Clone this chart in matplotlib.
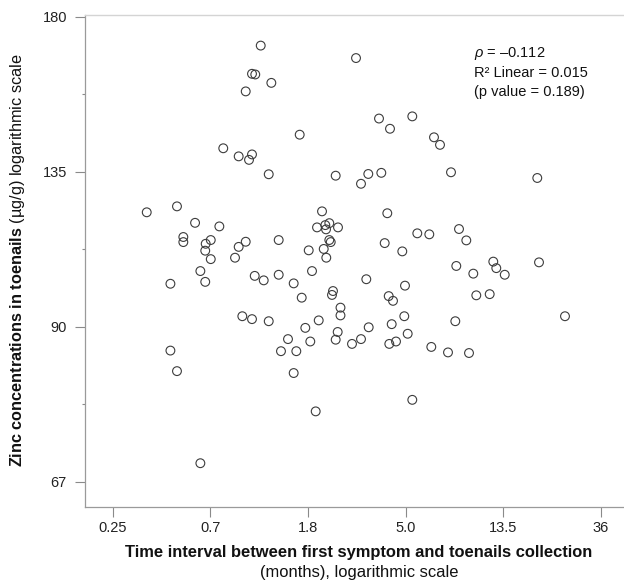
import numpy as np
import matplotlib
matplotlib.use('Agg')
import matplotlib.pyplot as plt
from matplotlib.ticker import FixedLocator, NullLocator, FixedFormatter, NullFormatter

plt.rcParams['font.family'] = ['Liberation Sans', 'DejaVu Sans']
plt.rcParams['mathtext.fontset'] = 'custom'
plt.rcParams['mathtext.rm'] = 'Liberation Sans'
plt.rcParams['mathtext.it'] = 'Liberation Sans:italic'
plt.rcParams['mathtext.bf'] = 'Liberation Sans:bold'

# ---- data (months since first symptom, zinc in toenails ug/g) ----
months = [1.124, 1.028, 1.063, 1.253, 0.964, 1.675, 0.766, 0.897, 1.028, 0.997,
          1.220, 2.421, 0.350, 0.477, 0.574, 0.736, 0.509, 0.509, 0.640, 0.674,
          0.637, 0.674, 0.964, 0.897, 0.864, 1.351, 2.105, 2.000, 2.177, 2.268,
          2.193, 2.479, 2.268, 2.301, 2.142, 1.837, 2.199, 0.606, 1.900, 0.637,
          0.446, 1.057, 1.159, 1.351, 1.575, 2.355, 2.331, 1.710, 2.543, 2.543,
          0.931, 1.028, 1.220, 1.774, 2.035, 2.471, 2.421, 1.486, 1.867, 1.383,
          1.618, 0.446, 0.477, 1.575, 1.973, 0.606,
          2.981, 3.772, 4.221, 5.303, 6.622, 7.042, 7.881, 19.06, 3.380, 3.862,
          3.137, 4.106, 5.582, 6.312, 3.998, 4.787, 8.554, 9.218, 8.320, 12.15,
          12.53, 13.66, 19.40, 9.902, 3.312, 4.921, 4.166, 4.353, 10.21, 11.71,
          4.886, 4.295, 3.394, 5.059, 8.236, 25.31, 3.137, 2.861, 4.489, 4.191,
          6.442, 7.643, 9.476, 5.303]
zinc = [170.6, 161.9, 161.7, 159.2, 156.7, 144.6, 141.0, 138.9, 139.4, 138.0,
        134.1, 133.6, 121.4, 123.3, 118.1, 117.0, 113.8, 112.3, 111.8, 112.9,
        109.8, 107.4, 112.4, 110.9, 107.8, 112.9, 121.7, 116.7, 117.4, 118.0,
        116.1, 116.7, 112.9, 112.3, 110.3, 109.9, 107.8, 104.1, 104.1, 101.2,
        100.7, 102.8, 101.6, 103.1, 100.8, 98.8, 97.8, 97.1, 94.6, 92.7,
        92.5, 91.8, 91.3, 89.8, 91.5, 89.1, 87.8, 87.9, 87.5, 85.9,
        85.9, 86.0, 82.7, 82.4, 76.6, 69.4,
        166.7, 149.0, 146.2, 149.6, 143.9, 141.9, 134.8, 132.8, 134.2, 134.6,
        130.8, 121.1, 114.9, 114.6, 112.0, 109.6, 116.2, 112.8, 105.5, 106.7,
        104.9, 103.1, 106.5, 103.4, 101.9, 100.2, 97.5, 96.3, 97.7, 98.0,
        92.5, 90.6, 89.9, 88.8, 91.3, 92.5, 87.9, 87.1, 87.5, 87.1,
        86.6, 85.7, 85.6, 78.3]

x_tick_labels = ['0.25', '0.7', '1.8', '5.0', '13.5', '36']
y_tick_values = [67, 90, 135, 180]
y_tick_labels = ['67', '90', '135', '180']
stats_lines = ['$\\it{\\rho}$ = \u20130.112', 'R\u00b2 Linear = 0.015', '(p value = 0.189)']

# ---- y scale: log scale with evenly spaced labelled ticks ----
LT = np.log(np.array(y_tick_values, dtype=float))
P = np.arange(len(LT), dtype=float)

def y_fwd(v):
    l = np.log(np.maximum(np.asarray(v, dtype=float), 1e-9))
    out = np.interp(l, LT, P)
    lo = l < LT[0]
    hi = l > LT[-1]
    out = np.where(lo, P[0] + (l - LT[0]) * (P[1] - P[0]) / (LT[1] - LT[0]), out)
    out = np.where(hi, P[-1] + (l - LT[-1]) * (P[-1] - P[-2]) / (LT[-1] - LT[-2]), out)
    return out

def y_inv(p):
    p = np.asarray(p, dtype=float)
    l = np.interp(p, P, LT)
    l = np.where(p < P[0], LT[0] + (p - P[0]) * (LT[1] - LT[0]), l)
    l = np.where(p > P[-1], LT[-1] + (p - P[-1]) * (LT[-1] - LT[-2]), l)
    return np.exp(l)

fig = plt.figure(figsize=(6.24, 5.82), dpi=100)
ax = fig.add_axes([85/624, 1 - 506.7/582, 539/624, (506.7 - 15)/582])

ax.scatter(months, zinc, s=40, facecolors='none', edgecolors='#3c3c3c',
           linewidths=0.8, zorder=3)

ax.set_xscale('log')
ax.set_yscale('function', functions=(y_fwd, y_inv))

x_tick_pos = np.exp(np.arange(-1.4, 3.65, 1.0))
ax.set_xlim(np.exp(-1.6817), np.exp(3.8352))
ax.set_ylim(y_inv(-0.1613), y_inv(3.011))

ax.xaxis.set_major_locator(FixedLocator(x_tick_pos))
ax.xaxis.set_major_formatter(FixedFormatter(x_tick_labels))
ax.xaxis.set_minor_locator(NullLocator())
ax.xaxis.set_minor_formatter(NullFormatter())

ax.yaxis.set_major_locator(FixedLocator(y_tick_values))
ax.yaxis.set_major_formatter(FixedFormatter(y_tick_labels))
ax.yaxis.set_minor_locator(FixedLocator(list(y_inv([0.5, 1.5, 2.5]))))
ax.yaxis.set_minor_formatter(NullFormatter())

ax.tick_params(axis='both', which='major', direction='out', length=7, width=0.8,
               color='#8a8a8a', labelsize=10.5, labelcolor='#222222')
ax.tick_params(axis='y', which='major', pad=6)
ax.tick_params(axis='x', which='major', pad=3)
ax.tick_params(axis='y', which='minor', direction='out', length=2.5, width=0.8,
               color='#8a8a8a')

for side in ['left', 'bottom']:
    ax.spines[side].set_color('#9a9a9a')
    ax.spines[side].set_linewidth(0.9)
ax.spines['top'].set_color('#d4d4d4')
ax.spines['top'].set_linewidth(1.0)
ax.spines['right'].set_visible(False)

# statistics annotation
for i, line in enumerate(stats_lines):
    fig.text(474/624, 1 - (53.5 + 19.3*i)/582, line, ha='left', va='center',
             fontsize=10.5, color='#111111')

# axis titles
fig.text(359/624, 1 - 553/582,
         'Time interval between first symptom and toenails collection',
         ha='center', va='center', fontsize=11.9, fontweight='bold', color='#111111')
fig.text(359/624, 1 - 573/582, '(months), logarithmic scale',
         ha='center', va='center', fontsize=11.9, color='#111111')
fig.text(18/624, 1 - 260/582,
         '$\\bf{Zinc\\ concentrations\\ in\\ toenails}$ (\u00b5g/g) logarithmic scale',
         ha='center', va='center', rotation=90, fontsize=11.7, color='#111111')

fig.savefig('out.png', dpi=100)
